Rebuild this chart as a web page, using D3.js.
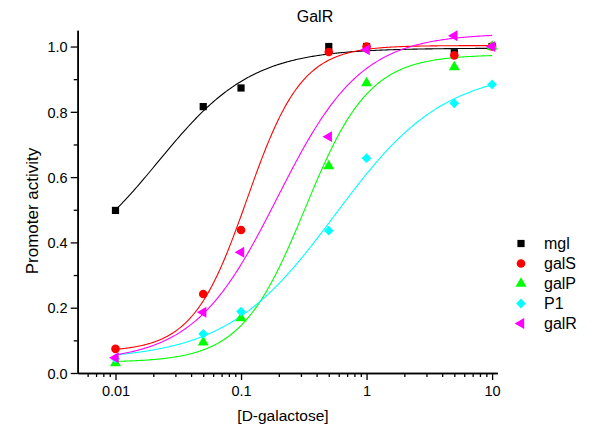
<!DOCTYPE html>
<html>
<head>
<meta charset="utf-8">
<script src="https://cdn.jsdelivr.net/npm/d3@7"></script>
<style>
  html, body { margin: 0; padding: 0; background: #fff; }
  svg { display: block; font-family: "Liberation Sans", Arial, sans-serif; }
</style>
</head>
<body>
<svg id="chart" width="592" height="427"></svg>
<script>
// D-galactose concentrations (x) and measured promoter activity per promoter
const concentrations = [0.01, 0.05, 0.1, 0.5, 1, 5, 10];
const seriesNames = ["mgl", "galS", "galP", "P1", "galR"];
const mgl  = [0.498, 0.816, 0.873, 1.000, 1.000, 0.981, 1.000];
const galS = [0.074, 0.242, 0.438, 0.983, 1.000, 0.973, 1.000];
const galP = [0.030, 0.094, 0.168, 0.634, 0.888, 0.937, 1.000];
const P1   = [0.044, 0.120, 0.188, 0.436, 0.658, 0.826, 0.884];
const galR = [0.047, 0.186, 0.370, 0.724, 0.990, 1.033, 1.000];

// Logistic dose-response fit per series: [bottom, top, x0, hill]
const fitMgl  = [0.30, 0.995, 0.0219, 1.16];
const fitGalS = [0.065, 1.003, 0.112, 2.0];
const fitGalP = [0.033, 0.975, 0.324, 1.7];
const fitP1   = [0.040, 0.930, 0.562, 1.0];
const fitGalR = [0.035, 1.040, 0.195, 1.3];

const xTickValues = [0.01, 0.1, 1, 10];
const xTickLabels = ["0.01", "0.1", "1", "10"];
const yTickValues = [0, 0.2, 0.4, 0.6, 0.8, 1.0];
const yTickLabels = ["0.0", "0.2", "0.4", "0.6", "0.8", "1.0"];

const series = [
  { name: seriesNames[0], values: mgl,  fit: fitMgl,  color: "#000000", symbol: d3.symbolSquare,   size: 52, rotate: 0 },
  { name: seriesNames[1], values: galS, fit: fitGalS, color: "#ff0000", symbol: d3.symbolCircle,   size: 58, rotate: 0 },
  { name: seriesNames[2], values: galP, fit: fitGalP, color: "#00ff00", symbol: d3.symbolTriangle, size: 52, rotate: 0 },
  { name: seriesNames[3], values: P1,   fit: fitP1,   color: "#00ffff", symbol: d3.symbolSquare,   size: 48, rotate: 45 },
  { name: seriesNames[4], values: galR, fit: fitGalR, color: "#ff00ff", symbol: d3.symbolTriangle, size: 52, rotate: -90 }
];

const svg = d3.select("#chart");
const plotLeft = 77.7, plotRight = 497.3, plotTop = 30.2, plotBottom = 373;

const x = d3.scaleLog().domain([0.005, 11]).range([plotLeft, plotRight]);
const y = d3.scaleLinear().domain([0, 1.05]).range([plotBottom, plotTop]);

// minor ticks on the log axis
const xMinor = [];
[0.001, 0.01, 0.1, 1].forEach(dec => {
  for (let k = 2; k <= 9; k++) {
    const v = dec * k;
    if (v > 0.005 && v < 11) xMinor.push(v);
  }
});
const yMinor = [0.1, 0.3, 0.5, 0.7, 0.9];

// fitted curves
const logistic = (p, xv) => p[0] + (p[1] - p[0]) / (1 + Math.pow(p[2] / xv, p[3]));
const sampleX = d3.range(0, 301).map(i => Math.pow(10, -2 + 3 * i / 300));
const line = d3.line().x(d => x(d[0])).y(d => y(d[1]));

const curves = svg.append("g").attr("fill", "none").attr("stroke-width", 1.1);
series.forEach(s => {
  curves.append("path")
    .attr("d", line(sampleX.map(xv => [xv, logistic(s.fit, xv)])))
    .attr("stroke", s.color);
});

// axes
const axisColor = "#000";
const xAxis = svg.append("g").attr("transform", `translate(0,${plotBottom})`)
  .call(d3.axisBottom(x).tickValues(xTickValues).tickFormat((d, i) => xTickLabels[i]).tickSize(7).tickSizeOuter(0).tickPadding(6));
const xAxisMinor = svg.append("g").attr("transform", `translate(0,${plotBottom})`)
  .call(d3.axisBottom(x).tickValues(xMinor).tickFormat("").tickSize(4).tickSizeOuter(0));
const yAxis = svg.append("g").attr("transform", `translate(${plotLeft},0)`)
  .call(d3.axisLeft(y).tickValues(yTickValues).tickFormat((d, i) => yTickLabels[i]).tickSize(7).tickSizeOuter(0).tickPadding(3));
const yAxisMinor = svg.append("g").attr("transform", `translate(${plotLeft},0)`)
  .call(d3.axisLeft(y).tickValues(yMinor).tickFormat("").tickSize(4).tickSizeOuter(0));

[xAxis, xAxisMinor, yAxis, yAxisMinor].forEach(g => {
  g.select(".domain").attr("stroke", axisColor).attr("stroke-width", 1.6);
  g.selectAll(".tick line").attr("stroke", axisColor).attr("stroke-width", 1.3);
  g.selectAll(".tick text").attr("fill", "#000").attr("font-size", 14.5)
    .attr("font-family", "'Liberation Sans', Arial, sans-serif");
});
yAxis.selectAll(".tick text").attr("dy", "0.36em");

// data points
series.forEach(s => {
  svg.append("g").selectAll("path")
    .data(s.values)
    .join("path")
    .attr("d", d3.symbol().type(s.symbol).size(s.size))
    .attr("transform", (d, i) => `translate(${x(concentrations[i])},${y(d)}) rotate(${s.rotate})`)
    .attr("fill", s.color);
});

// title and axis labels
svg.append("text").attr("x", 315).attr("y", 22).attr("text-anchor", "middle")
  .attr("font-size", 16).text("GalR");
svg.append("text").attr("x", 283).attr("y", 421).attr("text-anchor", "middle")
  .attr("font-size", 15.5).text("[D-galactose]");
svg.append("text").attr("transform", `translate(37.5,211) rotate(-90)`).attr("text-anchor", "middle")
  .attr("font-size", 17).text("Promoter activity");

// legend
const legend = svg.append("g");
series.forEach((s, i) => {
  const ly = 243.5 + i * 20;
  legend.append("path")
    .attr("d", d3.symbol().type(s.symbol).size(s.size))
    .attr("transform", `translate(521,${ly}) rotate(${s.rotate})`)
    .attr("fill", s.color);
  legend.append("text").attr("x", 544).attr("y", ly + 5.5)
    .attr("font-size", 16).text(s.name);
});
</script>
</body>
</html>
